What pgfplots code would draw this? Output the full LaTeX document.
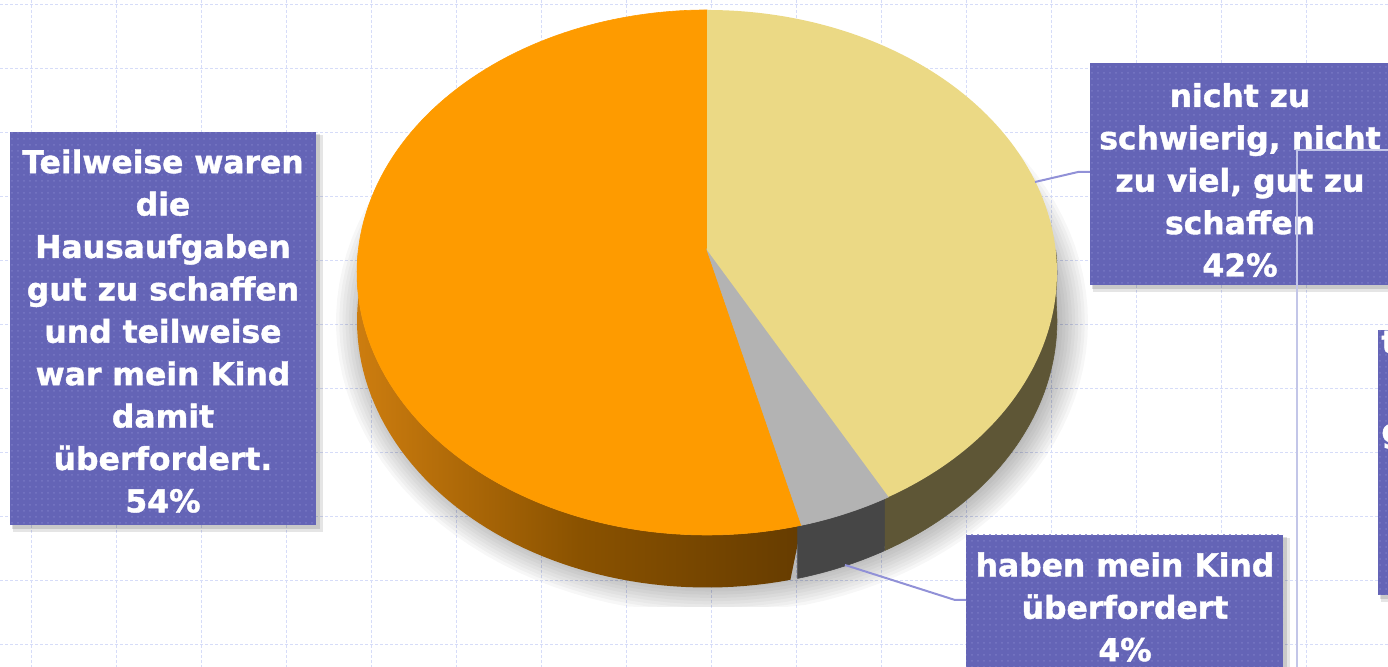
\documentclass[border=0pt]{standalone}
\usepackage{fontspec}
\setmainfont{DejaVu Sans}
\newfontfamily\lblff[BoldFeatures={FakeBold=1.3}]{DejaVu Sans}
\usepackage{pgfplots}
\usepackage{pgfplotstable}
\pgfplotsset{compat=1.18}
\usetikzlibrary{patterns}

\definecolor{orangetop}{RGB}{254,155,0}
\definecolor{yellowtop}{RGB}{235,217,133}
\definecolor{graytop}{RGB}{179,179,179}
\definecolor{grayside}{RGB}{70,70,70}
\definecolor{yellowside}{RGB}{94,86,54}
\definecolor{orangesideL}{RGB}{205,125,15}
\definecolor{orangesideM}{RGB}{138,82,0}
\definecolor{orangesideR}{RGB}{102,60,0}
\definecolor{boxfill}{RGB}{100,100,182}
\definecolor{boxdot}{RGB}{120,120,196}
\definecolor{gridc}{RGB}{214,220,248}
\definecolor{leader}{RGB}{145,145,215}
\definecolor{leaderlight}{RGB}{195,198,232}

\newcommand\lblfont{\lblff\fontsize{15.7}{21.2}\selectfont\bfseries}
\newcommand\lblbox[4]{%
  \fill[black, opacity=0.10] (axis cs:#1+3,#2+3) rectangle (axis cs:#3+7,#4+7);
  \fill[black, opacity=0.12] (axis cs:#1+2,#2+2) rectangle (axis cs:#3+4,#4+4);
  \fill[boxfill] (axis cs:#1,#2) rectangle (axis cs:#3,#4);
  \fill[pattern=dots, pattern color=boxdot] (axis cs:#1,#2) rectangle (axis cs:#3,#4);
}

% shares in percent (order: orange, gray, yellow)
\pgfplotstableread{
part share
teilweise 54
ueberfordert 4
gut 42
}\piedata
\pgfplotstablegetelem{0}{share}\of\piedata \let\sA\pgfplotsretval
\pgfplotstablegetelem{1}{share}\of\piedata \let\sB\pgfplotsretval
\pgfplotstablegetelem{2}{share}\of\piedata \let\sC\pgfplotsretval
\pgfmathsetmacro\aA{90}
\pgfmathsetmacro\aB{\aA+3.6*\sA}
\pgfmathsetmacro\aC{\aB+3.6*\sB}
\pgfmathsetmacro\aD{\aC+3.6*\sC}
\pgfmathsetmacro\aBo{\aB-0.6}
\pgfmathsetmacro\aCo{\aC-0.6}

\begin{document}
\begin{tikzpicture}
\begin{axis}[
  name=ax,
  scale only axis, width=694pt, height=333.5pt,
  xmin=0, xmax=1388, ymin=0, ymax=667, y dir=reverse,
  axis line style={draw=none},
  xtick={31,116,...,1388}, ytick={5,69,...,667},
  xticklabels={}, yticklabels={},
  major tick length=0pt,
  grid=major,
  major grid style={draw=gridc, line width=0.5pt, dash pattern=on 1.5pt off 1pt},
  declare function={
    px(\x)=707+348.7*cos(\x)/(1+0.0857*sin(\x));
    py(\x,\s)=250+(48*\s-260.6*sin(\x))/(1+0.0857*sin(\x));
    th(\t,\p,\q)=ifthenelse(\t<=1,\p+(\q-\p)*\t,\q-(\q-\p)*(\t-1));
  },
]
% soft shadow below the pie
\pgfplotsinvokeforeach{0,...,9}{
  \addplot[draw=none, fill=black, fill opacity=0.032, domain=0:360, samples=120, variable=\t]
    ({712+(376-3.2*#1)*cos(\t)},{min(322+(292-3.2*#1)*sin(\t),607)}) -- cycle;
}
% sides
\addplot[draw=none, shade, left color=orangesideL, right color=orangesideR, middle color=orangesideM,
  domain=0:2, samples=121, variable=\t]
  ({px(th(\t,180,\aB))},{py(th(\t,180,\aB),\t>1)}) -- cycle;
\addplot[draw=grayside, line width=0.3pt, fill=grayside, domain=0:2, samples=41, variable=\t]
  ({px(th(\t,\aBo,\aC))},{py(th(\t,\aBo,\aC),\t>1)}) -- cycle;
\addplot[draw=yellowside, line width=0.3pt, fill=yellowside, domain=0:2, samples=101, variable=\t]
  ({px(th(\t,\aCo,360))},{py(th(\t,\aCo,360),\t>1)}) -- cycle;
% tops
\addplot[draw=orangetop, line width=0.3pt, fill=orangetop, domain=\aA:\aB, samples=120, variable=\t]
  ({px(\t)},{py(\t,0)}) -- (axis cs:707,250) -- cycle;
\addplot[draw=graytop, line width=0.3pt, fill=graytop, domain=\aB:\aC, samples=20, variable=\t]
  ({px(\t)},{py(\t,0)}) -- (axis cs:707,250) -- cycle;
\addplot[draw=none, fill=yellowtop, domain=\aC:\aD, samples=120, variable=\t]
  ({px(\t)},{py(\t,0)}) -- (axis cs:707,250) -- cycle;

% leader lines
\draw[leader, line width=1pt] (axis cs:1035,182) -- (axis cs:1078,172) -- (axis cs:1090,172);
\draw[leader, line width=1pt] (axis cs:845,565) -- (axis cs:955,600) -- (axis cs:966,600);

% label boxes
\lblbox{10}{132}{316}{525}
\lblbox{1090}{63}{1392}{285}
\lblbox{966}{535}{1283}{690}
\lblbox{1378}{330}{1400}{595}

\node[text=white, font=\lblfont, align=center, inner sep=0pt] at (axis cs:163,331)
  {Teilweise waren\\die\\Hausaufgaben\\gut zu schaffen\\und teilweise\\war mein Kind\\damit\\überfordert.\\54\%};
\node[text=white, font=\lblfont, align=center, inner sep=0pt] at (axis cs:1240,180)
  {nicht zu\\schwierig, nicht\\zu viel, gut zu\\schaffen\\42\%};
\node[text=white, font=\lblfont, align=center, inner sep=0pt] at (axis cs:1125,607)
  {haben mein Kind\\überfordert\\4\%};
\node[text=white, font=\lblfont, anchor=base west, inner sep=0pt] at (axis cs:1381,353) {teilweise};
\node[text=white, font=\lblfont, anchor=base west, inner sep=0pt] at (axis cs:1381,442) {gut};

% leader of the label outside the picture
\draw[leaderlight, line width=0.8pt] (axis cs:1400,150) -- (axis cs:1297,150) -- (axis cs:1297,680);
\end{axis}
\pgfresetboundingbox
\path[use as bounding box] (ax.south west) rectangle (ax.north east);
\end{tikzpicture}
\end{document}
